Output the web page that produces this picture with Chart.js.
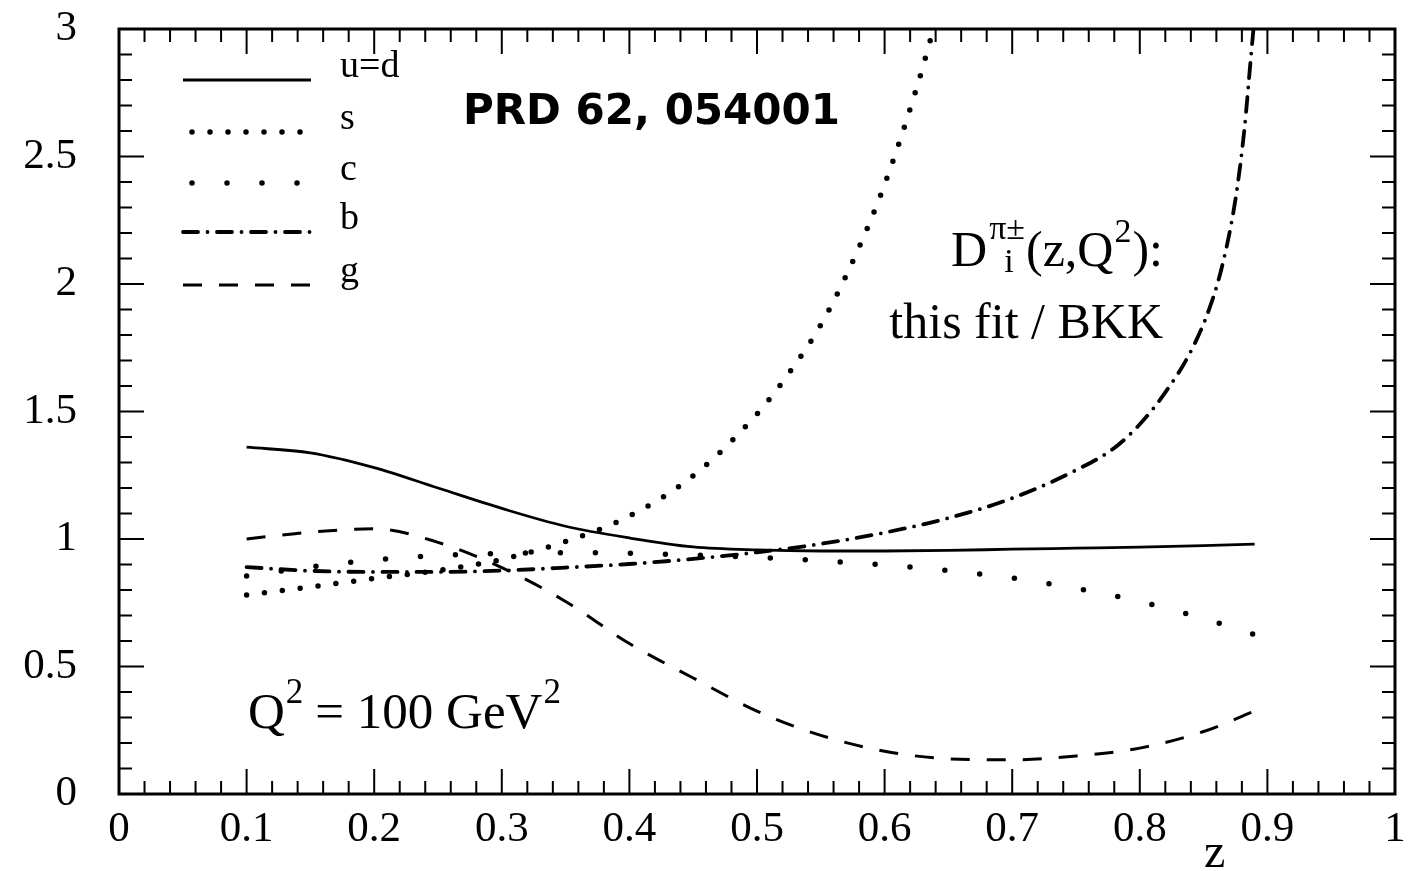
<!DOCTYPE html>
<html>
<head>
<meta charset="utf-8">
<script src="https://cdn.jsdelivr.net/npm/chart.js@4.4.1/dist/chart.umd.min.js"></script>
<style>
  html, body { margin: 0; padding: 0; background: #fff; }
  #wrap { width: 1411px; height: 871px; position: relative; }
</style>
</head>
<body>
<div id="wrap"><canvas id="fragChart"></canvas></div>
<script>
// z grid and ratios (this fit / BKK)
const zMain = [0.1, 0.15, 0.2, 0.25, 0.3, 0.35, 0.4, 0.45, 0.5, 0.55, 0.6, 0.65, 0.7, 0.75, 0.8, 0.85, 0.89];
const uValues = [1.36, 1.338, 1.28, 1.2, 1.12, 1.05, 1.004, 0.969, 0.957, 0.953, 0.953, 0.955, 0.96, 0.964, 0.968, 0.974, 0.98];
const cValues = [0.855, 0.89, 0.918, 0.935, 0.943, 0.946, 0.944, 0.937, 0.928, 0.915, 0.898, 0.876, 0.847, 0.806, 0.755, 0.688, 0.625];
const gValues = [1.0, 1.027, 1.04, 0.987, 0.888, 0.755, 0.59, 0.455, 0.325, 0.23, 0.168, 0.138, 0.134, 0.149, 0.18, 0.245, 0.325];

const zS = [0.1, 0.15, 0.2, 0.25, 0.3, 0.35, 0.4, 0.45, 0.5, 0.525, 0.55, 0.575, 0.6, 0.625, 0.64];
const sValues = [0.78, 0.812, 0.845, 0.877, 0.92, 0.99, 1.09, 1.248, 1.49, 1.65, 1.84, 2.088, 2.39, 2.767, 3.03];

const zB = [0.1, 0.15, 0.2, 0.25, 0.3, 0.35, 0.4, 0.45, 0.5, 0.55, 0.6, 0.65, 0.7, 0.75, 0.78, 0.8, 0.82, 0.84, 0.855, 0.865, 0.875, 0.882, 0.887, 0.89];
const bValues = [0.89, 0.875, 0.871, 0.871, 0.876, 0.888, 0.902, 0.922, 0.948, 0.981, 1.025, 1.082, 1.16, 1.27, 1.357, 1.45, 1.575, 1.736, 1.91, 2.08, 2.333, 2.608, 2.886, 3.05];

const xTicks = [0, 0.1, 0.2, 0.3, 0.4, 0.5, 0.6, 0.7, 0.8, 0.9, 1];
const yTicks = [0, 0.5, 1, 1.5, 2, 2.5, 3];
const labels = ['u=d', 's', 'c', 'b', 'g'];

const serif = '"Liberation Serif", "DejaVu Serif", serif';

const pts = (xs, ys) => xs.map((x, i) => ({ x: x, y: ys[i] }));

const lineDefaults = {
    showLine: true,
    pointRadius: 0,
    borderColor: '#000',
    fill: false,
    cubicInterpolationMode: 'monotone',
    clip: 0
};

const datasets = [
    Object.assign({}, lineDefaults, { label: labels[0], data: pts(zMain, uValues), borderWidth: 2.8, borderCapStyle: 'butt' }),
    Object.assign({}, lineDefaults, { label: labels[1], data: pts(zS, sValues), borderWidth: 5.5, borderDash: [0, 18], borderCapStyle: 'round' }),
    Object.assign({}, lineDefaults, { label: labels[2], data: pts(zMain, cValues), borderWidth: 5.5, borderDash: [0, 35], borderCapStyle: 'round' }),
    Object.assign({}, lineDefaults, { label: labels[3], data: pts(zB, bValues), borderWidth: 3.8, borderDash: [15, 9.5, 0, 9.5], borderCapStyle: 'round' }),
    Object.assign({}, lineDefaults, { label: labels[4], data: pts(zMain, gValues), borderWidth: 3, borderDash: [19, 17], borderCapStyle: 'butt' })
];

// text runs with super/subscripts: [text, size, dy, dx, noAdvance]
function drawPieces(ctx, pieces, xStart, base) {
    let x = xStart;
    pieces.forEach(p => {
        ctx.font = p[1] + 'px ' + serif;
        ctx.fillText(p[0], x + (p[3] || 0), base + p[2]);
        if (!p[4]) x += ctx.measureText(p[0]).width + (p[3] || 0);
    });
    return x;
}
function piecesWidth(ctx, pieces) {
    let w = 0;
    pieces.forEach(p => {
        ctx.font = p[1] + 'px ' + serif;
        if (!p[4]) w += ctx.measureText(p[0]).width + (p[3] || 0);
    });
    return w;
}

// frame, inward ticks on all four sides, legend and annotations
const framePlugin = {
    id: 'frame',
    afterDatasetsDraw(chart) {
        const ctx = chart.ctx;
        const a = chart.chartArea;
        const xs = chart.scales.x, ys = chart.scales.y;
        ctx.save();
        ctx.strokeStyle = '#000';
        ctx.setLineDash([]);
        ctx.lineCap = 'butt';

        ctx.lineWidth = 2;
        for (let i = 0; i <= 50; i++) {
            const px = xs.getPixelForValue(i / 50);
            const len = (i % 5 === 0) ? 25 : 13;
            ctx.beginPath();
            ctx.moveTo(px, a.bottom); ctx.lineTo(px, a.bottom - len);
            ctx.moveTo(px, a.top); ctx.lineTo(px, a.top + len);
            ctx.stroke();
        }
        for (let i = 0; i <= 30; i++) {
            const py = ys.getPixelForValue(i / 10);
            const len = (i % 5 === 0) ? 25 : 13;
            ctx.beginPath();
            ctx.moveTo(a.left, py); ctx.lineTo(a.left + len, py);
            ctx.moveTo(a.right, py); ctx.lineTo(a.right - len, py);
            ctx.stroke();
        }
        ctx.lineWidth = 3;
        ctx.strokeRect(a.left, a.top, a.right - a.left, a.bottom - a.top);

        // legend
        const legendY = [80, 132, 183, 232, 285];
        chart.data.datasets.forEach((ds, i) => {
            ctx.beginPath();
            ctx.lineWidth = ds.borderWidth;
            ctx.lineCap = ds.borderCapStyle;
            ctx.setLineDash(ds.borderDash || []);
            const dotted = ds.borderDash && ds.borderDash[0] === 0;
            ctx.moveTo(dotted ? 192 : 183, legendY[i]);
            ctx.lineTo(dotted ? 301 : 311, legendY[i]);
            ctx.stroke();
            ctx.setLineDash([]);
            ctx.fillStyle = '#000';
            ctx.font = '38px ' + serif;
            ctx.textAlign = 'left';
            ctx.textBaseline = 'alphabetic';
            ctx.fillText(ds.label, 340, legendY[i] - 3);
        });

        ctx.fillStyle = '#000';
        ctx.textBaseline = 'alphabetic';
        ctx.textAlign = 'left';

        ctx.font = 'bold 42px "DejaVu Sans", sans-serif';
        ctx.fillText('PRD 62, 054001', 463, 124);

        const dPieces = [
            ['D', 50, 0],
            ['i', 34, 6, 17, true],
            ['π±', 34, -27, 2],
            ['(z,Q', 50, 0, 1],
            ['2', 34, -24, 1],
            ['):', 50, 0, 1]
        ];
        const rightEdge = 1163;
        drawPieces(ctx, dPieces, rightEdge - piecesWidth(ctx, dPieces), 266);

        ctx.font = '50px ' + serif;
        ctx.fillText('this fit / BKK', rightEdge - ctx.measureText('this fit / BKK').width, 338);

        // Q^2 = 100 GeV^2
        const qPieces = [
            ['Q', 51, 0],
            ['2', 35, -25, 1],
            ['= 100 GeV', 51, 0, 12],
            ['2', 35, -25, 1]
        ];
        drawPieces(ctx, qPieces, 248, 728);

        // axis title
        ctx.font = '48px ' + serif;
        ctx.fillText('z', 1204, 867);
        ctx.restore();
    }
};

new Chart(document.getElementById('fragChart'), {
    type: 'scatter',
    data: { datasets: datasets },
    options: {
        responsive: true,
        maintainAspectRatio: false,
        animation: false,
        events: [],
        layout: { padding: { top: 29, right: 16, left: 0, bottom: 0 } },
        plugins: {
            legend: { display: false },
            tooltip: { enabled: false }
        },
        scales: {
            x: {
                type: 'linear',
                min: 0,
                max: 1,
                afterBuildTicks: (s) => { s.ticks = xTicks.map(v => ({ value: v })); },
                afterFit: (s) => { s.height = 77; s.paddingLeft = 0; s.paddingRight = 0; },
                grid: { display: false, drawTicks: false },
                border: { display: false },
                ticks: {
                    color: '#000',
                    padding: 10,
                    maxRotation: 0,
                    autoSkip: false,
                    font: { family: serif, size: 43 },
                    callback: (v) => String(Math.round(v * 10) / 10)
                }
            },
            y: {
                type: 'linear',
                min: 0,
                max: 3,
                afterBuildTicks: (s) => { s.ticks = yTicks.map(v => ({ value: v })); },
                afterFit: (s) => { s.width = 119; s.paddingTop = 0; s.paddingBottom = 0; },
                grid: { display: false, drawTicks: false },
                border: { display: false },
                ticks: {
                    color: '#000',
                    padding: 42,
                    autoSkip: false,
                    font: { family: serif, size: 43 },
                    callback: (v) => String(v)
                }
            }
        }
    },
    plugins: [framePlugin]
});
</script>
</body>
</html>
